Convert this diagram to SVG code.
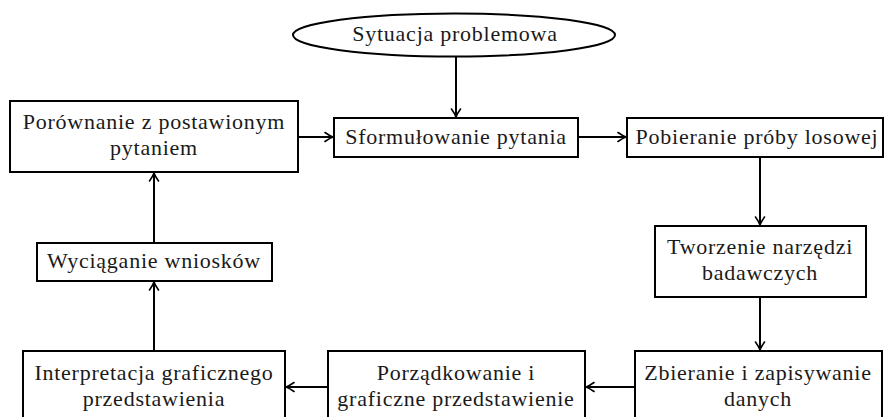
<svg xmlns="http://www.w3.org/2000/svg" width="884" height="417" viewBox="0 0 884 417">
<style>
.box{fill:#fff;stroke:#000;stroke-width:2}
.t{font-family:"Liberation Serif","Times New Roman",serif;font-size:22px;letter-spacing:0.75px;fill:#1a1a1a;text-anchor:middle}
.c{stroke:#000;stroke-width:2;fill:none;marker-end:url(#ah)}
</style>
<defs>
<marker id="ah" markerUnits="userSpaceOnUse" markerWidth="12" markerHeight="12" viewBox="-10 -6 12 12" refX="0" refY="0" orient="auto">
<path d="M-8,-4.5 Q-3,-1 0,0 Q-3,1 -8,4.5" fill="none" stroke="#000" stroke-width="1.6" stroke-linecap="round"/>
</marker>
</defs>
<rect width="884" height="417" fill="#fff"/>
<g id="connectors">
<line class="c" x1="456" y1="57" x2="456" y2="117"/>
<line class="c" x1="298" y1="137" x2="333" y2="137"/>
<line class="c" x1="578" y1="137" x2="626" y2="137"/>
<line class="c" x1="760" y1="157" x2="760" y2="225"/>
<line class="c" x1="760" y1="297" x2="760" y2="350"/>
<line class="c" x1="635" y1="387" x2="586" y2="387"/>
<line class="c" x1="328" y1="387" x2="286" y2="387"/>
<line class="c" x1="154" y1="351" x2="154" y2="282"/>
<line class="c" x1="154" y1="243" x2="154" y2="173"/>
</g>
<g id="n_sytuacja">
<ellipse class="box" cx="454" cy="35" rx="161" ry="21.5"/>
<text class="t" x="455" y="41">Sytuacja problemowa</text>
</g>
<g id="n_porownanie">
<rect class="box" x="10" y="101" width="288" height="71"/>
<text class="t" x="154" y="129">Porównanie z postawionym</text>
<text class="t" x="154" y="155">pytaniem</text>
</g>
<g id="n_sformulowanie">
<rect class="box" x="334" y="118" width="244" height="39"/>
<text class="t" x="456" y="144">Sformułowanie pytania</text>
</g>
<g id="n_pobieranie">
<rect class="box" x="627" y="118" width="256" height="39"/>
<text class="t" x="757" y="144">Pobieranie próby losowej</text>
</g>
<g id="n_tworzenie">
<rect class="box" x="655" y="226" width="211" height="71"/>
<text class="t" x="760" y="254">Tworzenie narzędzi</text>
<text class="t" x="760" y="280">badawczych</text>
</g>
<g id="n_zbieranie">
<rect class="box" x="635" y="351" width="247" height="75"/>
<text class="t" x="758" y="380">Zbieranie i zapisywanie</text>
<text class="t" x="758" y="406">danych</text>
</g>
<g id="n_porzadkowanie">
<rect class="box" x="328" y="351" width="257" height="75"/>
<text class="t" x="456" y="380">Porządkowanie i</text>
<text class="t" x="456" y="406">graficzne przedstawienie</text>
</g>
<g id="n_interpretacja">
<rect class="box" x="23" y="351" width="262" height="75"/>
<text class="t" x="154" y="380">Interpretacja graficznego</text>
<text class="t" x="154" y="406">przedstawienia</text>
</g>
<g id="n_wyciaganie">
<rect class="box" x="37" y="243" width="235" height="38"/>
<text class="t" x="154" y="268">Wyciąganie wniosków</text>
</g>
</svg>
